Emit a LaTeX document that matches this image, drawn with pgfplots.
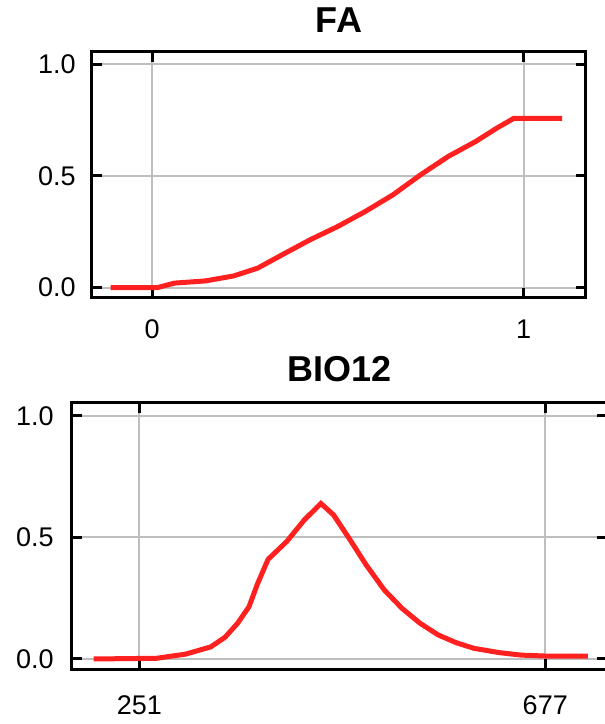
\documentclass[border=0pt]{standalone}
\usepackage{pgfplots}
\pgfplotsset{compat=1.18}
\usepackage{fontspec}
\setmainfont{Liberation Sans}
\definecolor{curvered}{RGB}{255,32,32}
\definecolor{gridgray}{RGB}{190,190,190}
\pgfplotsset{
  respstyle/.style={
    scale only axis,
    anchor=south west,
    axis line style={line width=1.5pt,black},
    grid=major,
    major grid style={line width=1pt,gridgray},
    tick align=inside,
    major tick length=5pt,
    every tick/.style={line width=1.5pt,black},
    tick label style={font=\fontsize{13.5}{14}\selectfont},
    /pgf/number format/assume math mode=true,
    ytick={0,0.5,1},
    yticklabel style={/pgf/number format/fixed,/pgf/number format/fixed zerofill,
      /pgf/number format/precision=1,anchor=east,inner sep=0pt,xshift=-8pt},
    title style={font=\bfseries\fontsize{18}{20}\selectfont,anchor=center,at={(0.5,1)}},
  }
}
\begin{document}
\begin{tikzpicture}
\useasboundingbox (0,0) rectangle (302.5pt,362pt);
\begin{axis}[respstyle,
  at={(46pt,213.2pt)},
  width=247pt, height=123pt,
  xmin=-0.162, xmax=1.168,
  ymin=-0.0448, ymax=1.0564,
  xtick={0,1},
  xticklabel style={anchor=center,yshift=-16pt},
  title={FA},
  title style={yshift=9.5pt},
]
\addplot[curvered,line width=2.5pt] coordinates {
(-0.112,0.0) (0.014,0.0) (0.06,0.02) (0.144,0.03) (0.219,0.052)
(0.284,0.087) (0.349,0.146) (0.424,0.213) (0.499,0.273) (0.573,0.34)
(0.648,0.415) (0.722,0.504) (0.797,0.587) (0.871,0.654) (0.927,0.713)
(0.974,0.758) (1.104,0.758)
};
\end{axis}
\begin{axis}[respstyle,
  at={(36pt,27.4pt)},
  width=267.6pt, height=133.3pt,
  xmin=180.2, xmax=742,
  ymin=-0.042, ymax=1.055,
  xtick={251,677},
  xticklabel style={anchor=center,yshift=-18pt},
  yticklabel style={xshift=-1pt},
  title={BIO12},
  title style={yshift=10.5pt},
]
\addplot[curvered,line width=2.5pt] coordinates {
(202.9,0.0) (269,0.003) (299.5,0.02) (326,0.05) (341,0.09) (354,0.147)
(366,0.215) (375,0.31) (386,0.41) (405.5,0.483) (424,0.572) (441.5,0.64)
(454.7,0.593) (470,0.503) (489,0.387) (508,0.284) (526.7,0.208)
(545.6,0.147) (564.6,0.099) (583.5,0.067) (602,0.044) (629,0.026)
(651.7,0.016) (678,0.012) (721.7,0.012)
};
\end{axis}
\end{tikzpicture}
\end{document}
